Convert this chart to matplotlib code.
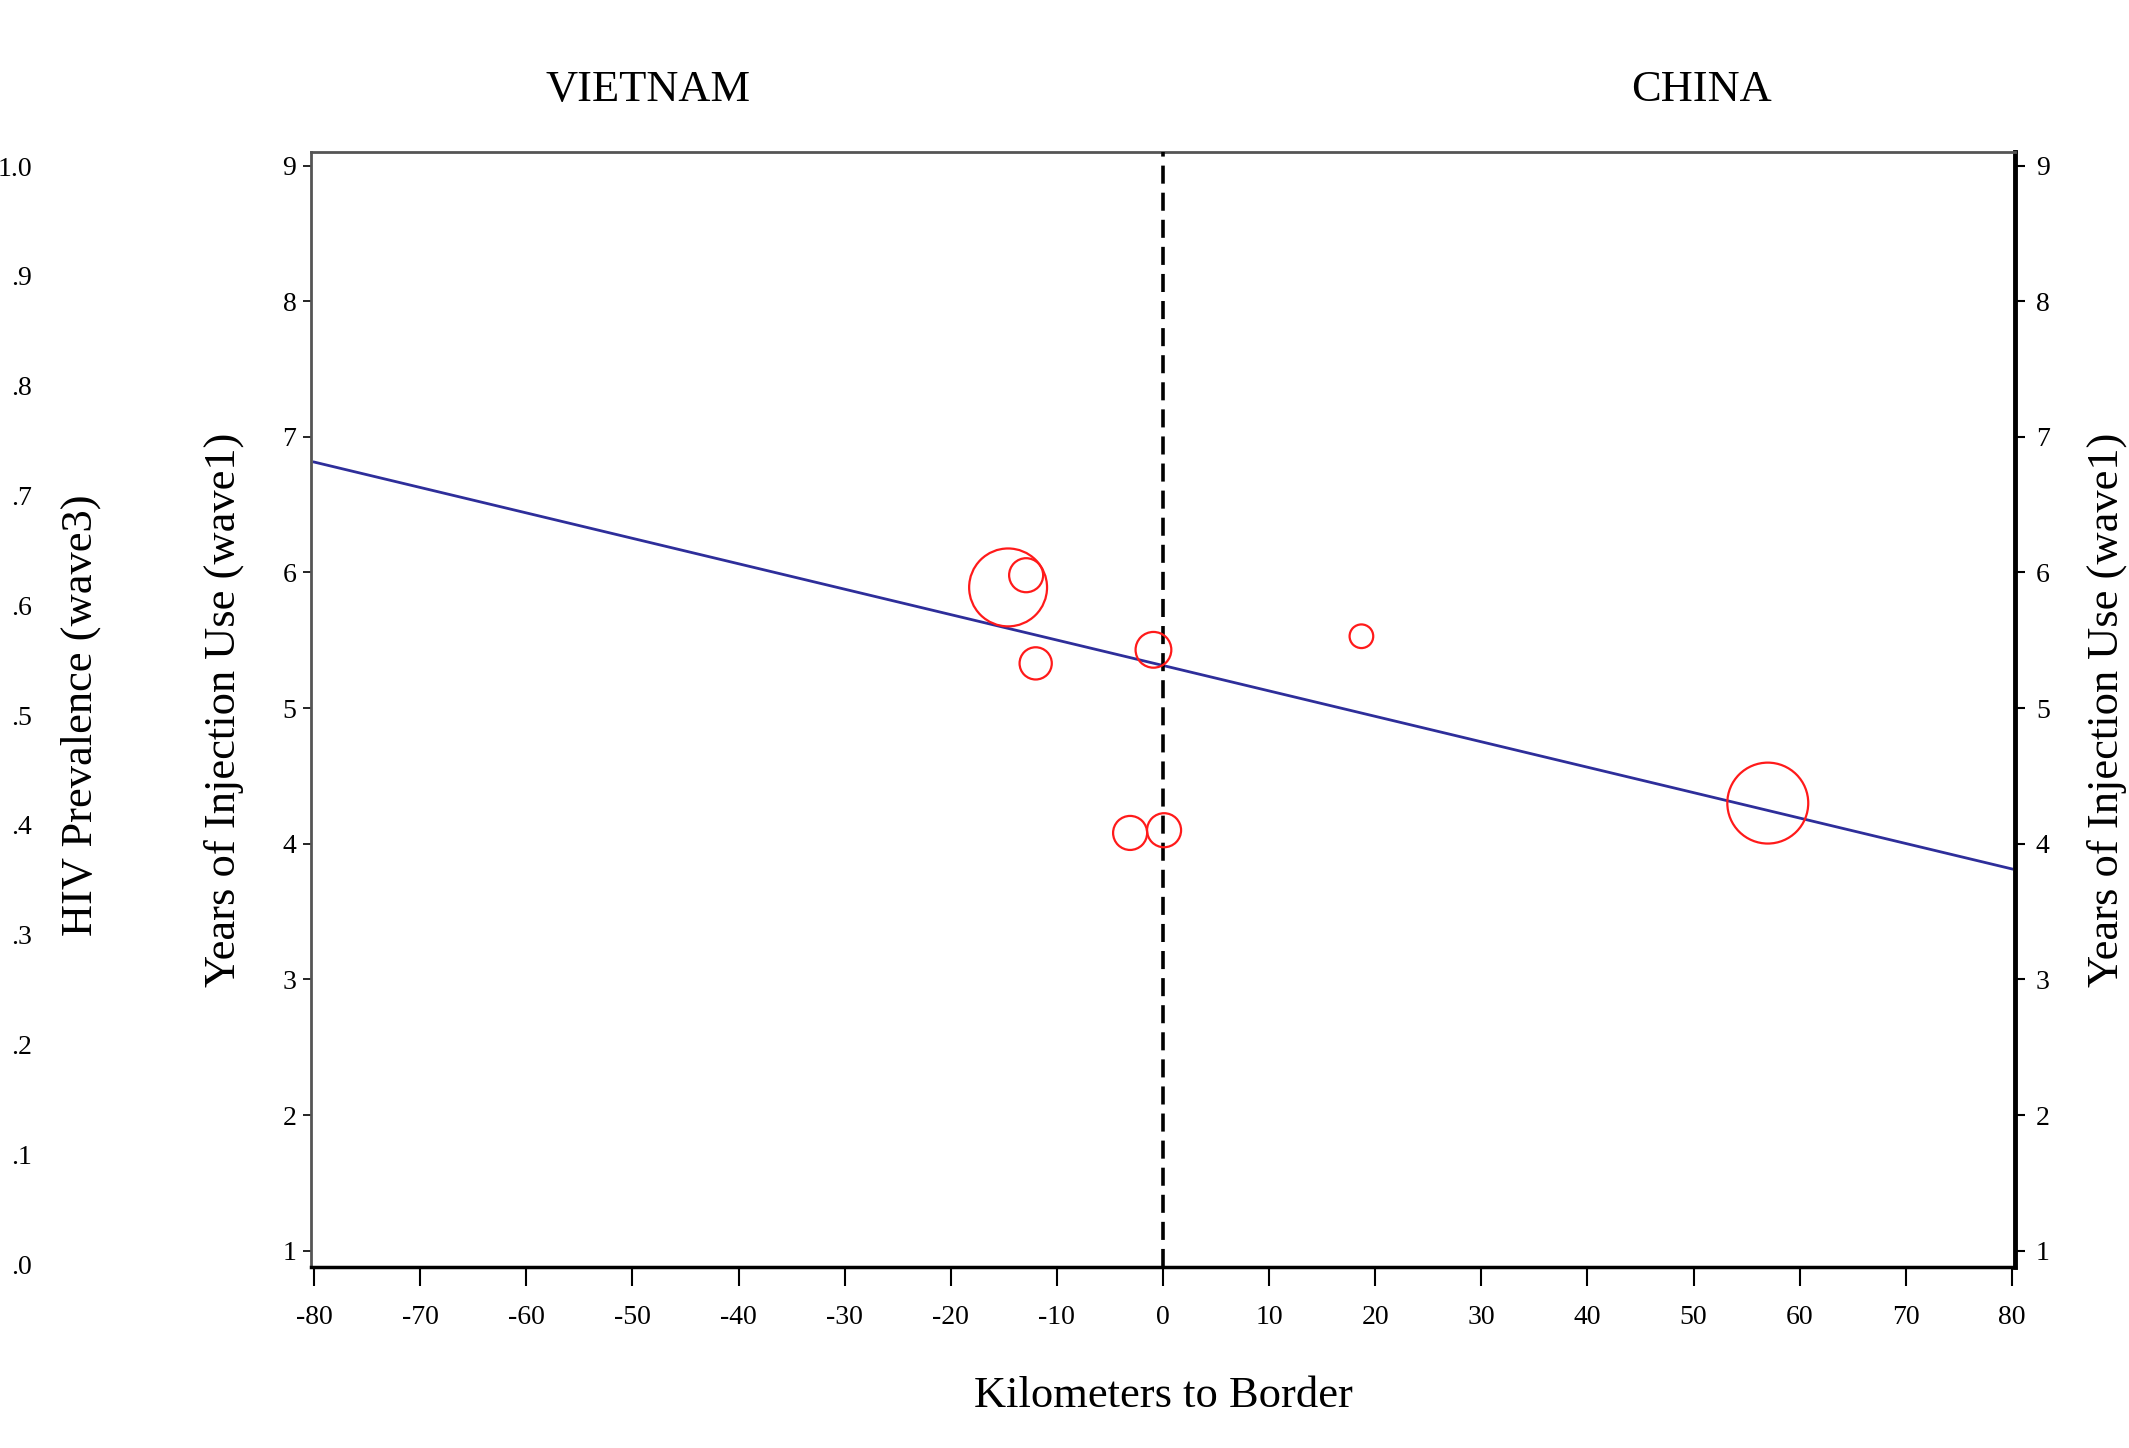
import numpy as np
import matplotlib
matplotlib.use("Agg")
from matplotlib import pyplot
from matplotlib.ticker import FuncFormatter

pyplot.rcParams['font.family'] = ['Liberation Serif', 'DejaVu Serif']
pyplot.rcParams['axes.unicode_minus'] = False

# site data: km to border, years of injection use (wave1), bubble weight
km_to_border = [-14.6, -12.9, -12.0, -0.9, 18.7, -3.1, 0.1, 57.0]
years_inject = [5.89, 5.98, 5.33, 5.43, 5.53, 4.08, 4.10, 4.30]
site_weight = [152, 29, 26, 32, 14, 29, 29, 164]

x_ticks = list(range(-80, 81, 10))
y_ticks = list(range(1, 10))
hiv_ticks = [i / 10 for i in range(11)]

x = np.array(km_to_border, dtype=float)
y = np.array(years_inject, dtype=float)
w = np.array(site_weight, dtype=float)

# weighted linear fit
slope, intercept = np.polyfit(x, y, 1, w=np.sqrt(w))
xl = np.array([-80, 80])
yl = intercept + slope * xl

fig = pyplot.figure(figsize=(21.29, 14.48), dpi=100)
ax = fig.add_axes([311 / 2129, 181 / 1448, 1704 / 2129, 1115 / 1448])

ax.plot(xl, yl, color='#2e2e9a', lw=2, zorder=2)
ax.axvline(0, color='black', lw=2.6, linestyle=(0, (5, 2.5)), zorder=3)
ax.scatter(x, y, s=w * 20.7, facecolors='none', edgecolors='#ff1a1a',
           linewidths=1.6, zorder=4)

ax.set_xlim(-80.3, 80.3)
ax.set_ylim(0.88, 9.1)
ax.set_xticks(x_ticks)
ax.set_yticks(y_ticks)
ax.tick_params(axis='x', direction='out', length=14, width=1.5, pad=13, labelsize=20)
ax.tick_params(axis='y', direction='out', length=5.5, width=1.2, pad=5, labelsize=20)

ax.spines['left'].set_color('#555555')
ax.spines['left'].set_linewidth(2)
ax.spines['top'].set_color('#555555')
ax.spines['top'].set_linewidth(2)
ax.spines['bottom'].set_linewidth(2.5)
ax.spines['right'].set_linewidth(3.5)

# right axis, same scale
ax2 = ax.twinx()
ax2.set_ylim(ax.get_ylim())
ax2.set_yticks(y_ticks)
ax2.tick_params(axis='y', direction='out', length=7, width=1.5, pad=8, labelsize=20)
for s in ax2.spines.values():
    s.set_visible(False)

# far-left HIV prevalence axis
ax3 = ax.twinx()
ax3.set_ylim(-0.0027, 1.0128)
ax3.yaxis.set_ticks_position('left')
ax3.spines['left'].set_position(('outward', 201))
for s in ax3.spines.values():
    s.set_visible(False)
ax3.set_yticks(hiv_ticks)
ax3.yaxis.set_major_formatter(FuncFormatter(lambda v, p: "{:.1f}".format(v).lstrip('0')))
ax3.tick_params(axis='y', length=0, pad=0, labelsize=20)

lab = dict(fontsize=32, ha='center', va='center')
ax.text(0.5, -0.116, 'Kilometers to Border', transform=ax.transAxes, **lab)
ax.text(-0.051, 0.5, 'Years of Injection Use (wave1)', rotation=90, transform=ax.transAxes, **lab)
ax.text(1.054, 0.5, 'Years of Injection Use (wave1)', rotation=90, transform=ax.transAxes, **lab)
ax.text(-0.135, 0.495, 'HIV Prevalence (wave3)', rotation=90, transform=ax.transAxes, **lab)
ax.text(0.198, 1.056, 'VIETNAM', transform=ax.transAxes, **lab)
ax.text(0.816, 1.056, 'CHINA', transform=ax.transAxes, **lab)

pyplot.savefig("out.png", dpi=100)
